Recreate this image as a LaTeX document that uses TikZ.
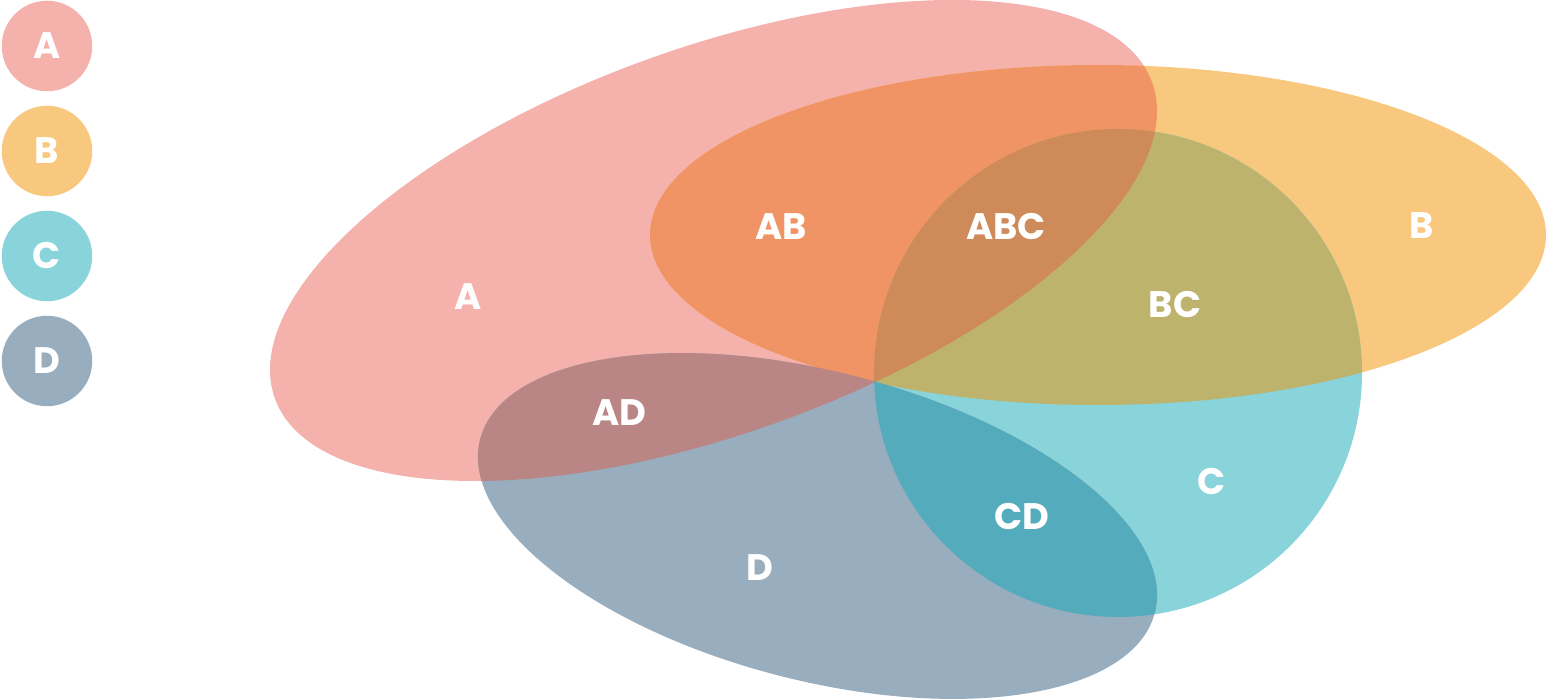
\documentclass[tikz,border=0pt]{standalone}
\usepackage{fontspec}
\setmainfont{Poppins}
\usepackage{tikz}

\definecolor{setA}{HTML}{F5B1AB}
\definecolor{setB}{HTML}{F8C87E}
\definecolor{setC}{HTML}{89D3DA}
\definecolor{setD}{HTML}{98ADBE}
\definecolor{setAB}{HTML}{F09465}
\definecolor{setABC}{HTML}{CF8A5A}
\definecolor{setBC}{HTML}{BDB36D}
\definecolor{setAD}{HTML}{BA8585}
\definecolor{setCD}{HTML}{54ABBB}

\newcommand{\ellA}[1]{\path[#1,rotate around={19.8:(713.5,458.5)}] (713.5,458.5) ellipse [x radius=466.2,y radius=192.8];}
\newcommand{\ellB}[1]{\path[#1] (1098,464) ellipse [x radius=448,y radius=170];}
\newcommand{\circC}[1]{\path[#1] (1118,326) circle [radius=244];}
\newcommand{\ellD}[1]{\path[#1,rotate around={-14.4:(817.5,173)}] (817.5,173) ellipse [x radius=348.3,y radius=154.5];}

\begin{document}
\begin{tikzpicture}[x=0.02cm,y=0.02cm,
  lbl/.style={text=white,font=\bfseries\fontsize{21}{21}\selectfont},
  key/.style={circle,minimum size=1.81cm,inner sep=0pt,lbl}]
\useasboundingbox (0,0) rectangle (1547,699);
% single sets
\ellA{fill=setA}
\ellB{fill=setB}
\circC{fill=setC}
\ellD{fill=setD}
% overlaps
\begin{scope} \ellA{clip} \ellB{fill=setAB} \end{scope}
\begin{scope} \ellB{clip} \circC{fill=setBC} \end{scope}
\begin{scope} \ellA{clip} \ellB{clip} \circC{fill=setABC} \end{scope}
\begin{scope} \ellA{clip} \ellD{fill=setAD} \end{scope}
\begin{scope} \circC{clip} \ellD{fill=setCD} \end{scope}
% legend
\node[key,fill=setA] (keyA) at (47,653) {A};
\node[key,fill=setB] (keyB) at (47,548) {B};
\node[key,fill=setC] (keyC) at (47,443) {C};
\node[key,fill=setD] (keyD) at (47,338) {D};
% region labels
\node[lbl] (labA) at (468,402) {A};
\node[lbl] (labB) at (1422,473) {B};
\node[lbl] (labC) at (1212,218) {C};
\node[lbl] (labD) at (760,131) {D};
\node[lbl] (labAB) at (781,472) {AB};
\node[lbl] (labABC) at (1006,472) {ABC};
\node[lbl] (labBC) at (1175,394) {BC};
\node[lbl] (labAD) at (619,286) {AD};
\node[lbl] (labCD) at (1022,183) {CD};
\end{tikzpicture}
\end{document}
